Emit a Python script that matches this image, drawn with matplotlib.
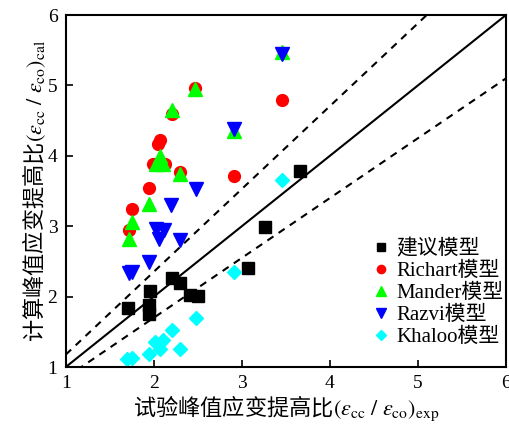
import numpy as np
import matplotlib.pyplot as plt

plt.rcParams['font.family'] = ['Liberation Serif', 'Noto Sans CJK SC']
plt.rcParams['mathtext.fontset'] = 'stix'

# 建议模型
jy_x = [1.71, 1.96, 1.94, 1.95, 2.21, 2.30, 2.41, 2.50, 3.07, 3.26, 3.66]
jy_y = [1.84, 2.08, 1.88, 1.76, 2.27, 2.19, 2.02, 2.01, 2.40, 2.99, 3.78]
# Richart模型
ri_x = [1.72, 1.75, 1.94, 1.99, 2.13, 2.05, 2.07, 2.21, 2.30, 2.47, 2.91, 3.46]
ri_y = [2.94, 3.24, 3.55, 3.89, 3.89, 4.17, 4.23, 4.60, 3.77, 4.97, 3.72, 4.79]
# Mander模型
ma_x = [1.72, 1.75, 1.94, 2.03, 2.11, 2.07, 2.21, 2.30, 2.47, 2.91, 3.46]
ma_y = [2.82, 3.06, 3.32, 3.88, 3.88, 4.00, 4.65, 3.74, 4.95, 4.35, 5.48]
# Razvi模型
rz_x = [1.72, 1.75, 1.94, 2.03, 2.12, 2.06, 2.20, 2.30, 2.48, 2.91, 3.46]
rz_y = [2.33, 2.35, 2.49, 2.96, 2.95, 2.82, 3.30, 2.80, 3.53, 4.38, 5.45]
# Khaloo模型
kh_x = [1.70, 1.75, 1.94, 2.01, 2.11, 2.07, 2.21, 2.30, 2.48, 2.91, 3.46]
kh_y = [1.11, 1.13, 1.19, 1.36, 1.38, 1.26, 1.53, 1.26, 1.69, 2.35, 3.66]

fig = plt.figure(figsize=(5.1, 4.3), dpi=100)
ax = fig.add_axes([0.129, 0.1465, 0.863, 0.8185])

line = np.array([1, 6])
ax.plot(line, line, color='black', lw=1.5)
ax.plot(line, line / 0.85, color='black', lw=1.5, ls=(0, (3.5, 3)))
ax.plot(line, line * 0.85, color='black', lw=1.5, ls=(0, (3.5, 3)))

ax.plot(jy_x, jy_y, 's', color='black', ms=8, ls='none', label='建议模型')
ax.plot(ri_x, ri_y, 'o', color='#ff0000', ms=8.5, ls='none', label='Richart模型')
ax.plot(ma_x, ma_y, '^', color='#00ff00', ms=9.5, ls='none', label='Mander模型')
ax.plot(rz_x, rz_y, 'v', color='#0000ff', ms=9.5, ls='none', label='Razvi模型')
ax.plot(kh_x, kh_y, 'D', color='#00ffff', ms=7.5, ls='none', label='Khaloo模型')

ax.set_xlim(1, 6)
ax.set_ylim(1, 6)
ax.set_xticks([1, 2, 3, 4, 5, 6])
ax.set_yticks([1, 2, 3, 4, 5, 6])
ax.tick_params(direction='in', length=5, width=1.2, labelsize=14, pad=6,
               top=False, right=False)
for s in ax.spines.values():
    s.set_linewidth(1.5)

# CJK part needs the CJK font as the "default" mathtext font
ax.set_xlabel(r'试验峰值应变提高比$(\varepsilon_{\rm cc}\ /\ \varepsilon_{\rm co})_{\rm exp}$',
              fontsize=16, labelpad=1, family='Noto Sans CJK SC')
ax.set_ylabel(r'计算峰值应变提高比$(\varepsilon_{\rm cc}\ /\ \varepsilon_{\rm co})_{\rm cal}$',
              fontsize=16, labelpad=0, family='Noto Sans CJK SC')

ax.legend(loc='upper left', bbox_to_anchor=(0.665, 0.405), frameon=False,
          fontsize=15, markerscale=0.7, handlelength=0.8, handletextpad=0.3,
          labelspacing=0.12, borderpad=0.2)

fig.savefig('out.png', dpi=100)
